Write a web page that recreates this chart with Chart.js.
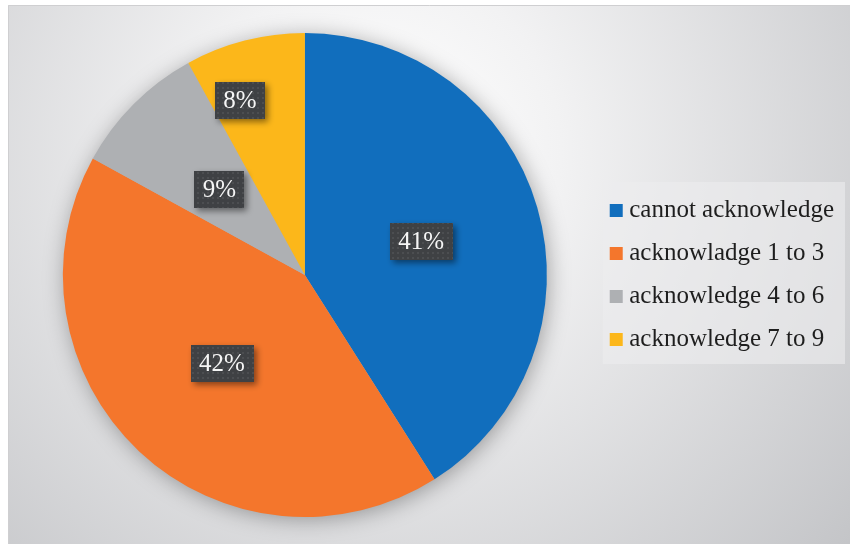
<!DOCTYPE html>
<html>
<head>
<meta charset="utf-8">
<script src="https://cdn.jsdelivr.net/npm/chart.js@4.4.0/dist/chart.umd.min.js"></script>
<style>
    html, body { margin: 0; padding: 0; background: #fff; }
    #wrap { width: 850px; height: 544px; }
    #fontprime { position: absolute; left: -2000px; top: 0; font: 25px "Liberation Serif"; }
</style>
</head>
<body>
<div id="wrap"><canvas id="pieChart" width="850" height="544"></canvas></div>
<div id="fontprime">acknowledge 41%</div>
<script>
// Data
const categories = ['cannot acknowledge', 'acknowladge 1 to 3', 'acknowledge 4 to 6', 'acknowledge 7 to 9'];
const shares = [41, 42, 9, 8];
const sliceColors = ['#116EBD', '#F4762C', '#AEB0B3', '#FCB71A'];
// label placement: fraction of radius, angle shift in degrees
const labelRadius = [0.5, 0.5, 0.5, 0.77];
const labelShift = [0, 0, 0, -6];

const SERIF = '"Liberation Serif"';

// dotted fill for the data label boxes
const dotTile = document.createElement('canvas');
dotTile.width = 5;
dotTile.height = 5;
const dt = dotTile.getContext('2d');
dt.fillStyle = '#3f4144';
dt.fillRect(0, 0, 5, 5);
dt.fillStyle = '#4c4e51';
dt.fillRect(2, 2, 2, 2);

const backdrop = {
    id: 'backdrop',
    beforeDraw(chart) {
        const ctx = chart.ctx;
        ctx.save();
        ctx.fillStyle = '#fff';
        ctx.fillRect(0, 0, chart.width, chart.height);
        const g = ctx.createRadialGradient(380, 150, 10, 380, 150, 620);
        g.addColorStop(0, '#ffffff');
        g.addColorStop(0.28, '#f2f2f3');
        g.addColorStop(1, '#c3c4c7');
        ctx.fillStyle = g;
        ctx.fillRect(8, 5, chart.width - 8, chart.height - 5);
        ctx.strokeStyle = '#cfcfd1';
        ctx.lineWidth = 1;
        ctx.beginPath();
        ctx.moveTo(8.5, chart.height);
        ctx.lineTo(8.5, 5.5);
        ctx.lineTo(chart.width, 5.5);
        ctx.stroke();

        // legend panel
        const boxes = chart.legend.legendHitBoxes;
        if (boxes && boxes.length) {
            const top = boxes[0].top - 16;
            const bottom = boxes[boxes.length - 1].top + boxes[boxes.length - 1].height + 12;
            const left = boxes[0].left - 13;
            ctx.fillStyle = 'rgba(236,236,238,0.6)';
            ctx.fillRect(left, top, chart.width - 5 - left, bottom - top);
        }
        ctx.restore();
    },
    beforeDatasetsDraw(chart) {
        const arc = chart.getDatasetMeta(0).data[0];
        if (!arc) return;
        const ctx = chart.ctx;
        ctx.save();
        ctx.shadowColor = 'rgba(0,0,0,0.35)';
        ctx.shadowBlur = 22;
        ctx.shadowOffsetX = 2;
        ctx.shadowOffsetY = 3;
        ctx.fillStyle = '#b0b1b4';
        ctx.beginPath();
        ctx.arc(arc.x, arc.y, arc.outerRadius - 1, 0, Math.PI * 2);
        ctx.fill();
        ctx.restore();
    },
    afterDatasetsDraw(chart) {
        const ctx = chart.ctx;
        const pattern = ctx.createPattern(dotTile, 'repeat');
        chart.getDatasetMeta(0).data.forEach((arc, i) => {
            const p = arc.getProps(['x', 'y', 'startAngle', 'endAngle', 'outerRadius'], true);
            const mid = (p.startAngle + p.endAngle) / 2 + labelShift[i] * Math.PI / 180;
            const r = p.outerRadius * labelRadius[i];
            const cx = p.x + Math.cos(mid) * r;
            const cy = p.y + Math.sin(mid) * r;
            const text = shares[i] + '%';
            ctx.save();
            ctx.font = '25px ' + SERIF;
            const w = ctx.measureText(text).width + 17;
            const h = 37;
            ctx.shadowColor = 'rgba(0,0,0,0.45)';
            ctx.shadowBlur = 6;
            ctx.shadowOffsetX = 3;
            ctx.shadowOffsetY = 3;
            ctx.fillStyle = pattern;
            ctx.fillRect(Math.round(cx - w / 2), Math.round(cy - h / 2), Math.round(w), h);
            ctx.restore();
            ctx.save();
            ctx.font = '25px ' + SERIF;
            ctx.fillStyle = '#f5f5f5';
            ctx.textAlign = 'center';
            ctx.textBaseline = 'middle';
            ctx.fillText(text, cx, cy + 1);
            ctx.restore();
        });
    }
};

Chart.defaults.font.family = SERIF;

const ctx = document.getElementById('pieChart').getContext('2d');
const pieChart = new Chart(ctx, {
    type: 'pie',
    data: {
        labels: categories,
        datasets: [{
            data: shares,
            backgroundColor: sliceColors,
            borderWidth: 0,
            hoverOffset: 0
        }]
    },
    options: {
        responsive: false,
        animation: false,
        layout: {
            padding: { left: 12, top: 33, bottom: 27, right: 6 }
        },
        plugins: {
            legend: {
                position: 'right',
                labels: {
                    usePointStyle: true,
                    pointStyle: 'rect',
                    boxWidth: 1,
                    boxHeight: 13,
                    padding: 18,
                    color: '#1e1e1e',
                    font: { family: SERIF, size: 25 }
                }
            },
            tooltip: { enabled: false }
        }
    },
    plugins: [backdrop]
});
</script>
</body>
</html>
